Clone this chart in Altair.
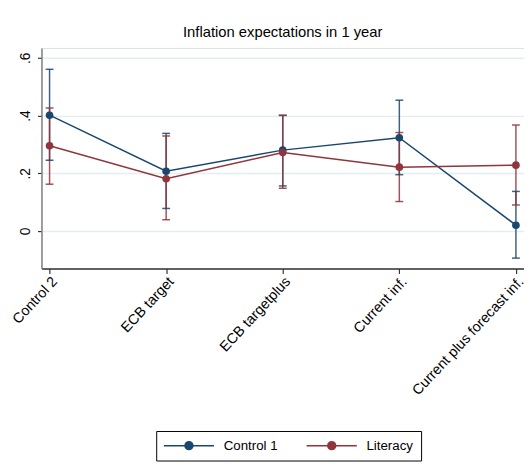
import altair as alt
import pandas as pd

categories = ["Control 2", "ECB target", "ECB targetplus", "Current inf.", "Current plus forecast inf."]
series_names = ["Control 1", "Literacy"]

control1_mean = [0.401, 0.207, 0.280, 0.323, 0.020]
control1_lo = [0.245, 0.078, 0.156, 0.195, -0.094]
control1_hi = [0.560, 0.338, 0.401, 0.453, 0.137]

literacy_mean = [0.295, 0.181, 0.272, 0.221, 0.228]
literacy_lo = [0.162, 0.039, 0.148, 0.102, 0.090]
literacy_hi = [0.426, 0.329, 0.400, 0.341, 0.367]

y_ticks = [0, 0.2, 0.4, 0.6]
colors = ["#1a476f", "#90353b"]

rows = []
for name, m, lo, hi in [
    (series_names[0], control1_mean, control1_lo, control1_hi),
    (series_names[1], literacy_mean, literacy_lo, literacy_hi),
]:
    for c, a, b, d in zip(categories, m, lo, hi):
        rows.append({"cat": c, "series": name, "mean": a, "lo": b, "hi": d})
df = pd.DataFrame(rows)

FONT = "Liberation Sans"

x_enc = alt.X(
    "cat:N",
    sort=categories,
    scale=alt.Scale(type="point", padding=0.0693),
    axis=alt.Axis(
        title=None,
        labelAngle=313,
        labelAlign="right",
        labelBaseline="top",
        labelFontSize=14.5,
        labelFont=FONT,
        labelColor="#000000",
        labelPadding=1,
        labelLimit=300,
        tickSize=5,
        tickColor="#333333",
        tickWidth=1.2,
        domainColor="#333333",
        domainWidth=1.5,
        grid=False,
    ),
)

y_scale = alt.Scale(domain=[-0.13, 0.634], nice=False, zero=False)
y_axis = alt.Axis(
    title=None,
    values=y_ticks,
    labelExpr="datum.value == 0 ? '0' : replace(format(datum.value, '.1f'), '0.', '.')",
    labelAngle=270,
    labelAlign="center",
    labelBaseline="bottom",
    labelFontSize=14,
    labelFont=FONT,
    labelColor="#000000",
    labelPadding=5,
    tickSize=4,
    tickColor="#333333",
    tickWidth=1.2,
    domainColor="#808080",
    domainWidth=1.5,
    grid=True,
    gridColor="#e4edf0",
    gridWidth=1.5,
)

color_scale = alt.Scale(domain=series_names, range=colors)

legend_path = (
    "M-1.4,0H8.8"
    "M4.5,0A0.8,0.8,0,1,1,2.9,0A0.8,0.8,0,1,1,4.5,0"
    "M4.2,0A0.5,0.5,0,1,1,3.2,0A0.5,0.5,0,1,1,4.2,0"
    "M3.9,0A0.2,0.2,0,1,1,3.5,0A0.2,0.2,0,1,1,3.9,0"
)

legend = alt.Legend(
    title=None,
    orient="none",
    legendX=116.5,
    legendY=389,
    direction="horizontal",
    symbolType=legend_path,
    symbolSize=100,
    symbolStrokeWidth=1.5,
    symbolOpacity=1,
    labelFontSize=13.5,
    labelFont=FONT,
    labelColor="#000000",
    labelOffset=47,
    columnPadding=25,
    padding=8,
    strokeColor="#000000",
    fillColor="#ffffff",
)

color_enc = alt.Color("series:N", scale=color_scale, legend=legend)

base = alt.Chart(df)

rules = base.mark_rule(strokeWidth=1.5, opacity=0.85).encode(
    x=x_enc,
    y=alt.Y("lo:Q", scale=y_scale, axis=y_axis),
    y2="hi:Q",
    color=color_enc,
)
caps_lo = base.mark_tick(size=8, thickness=1.5, opacity=0.85).encode(
    x=x_enc,
    y=alt.Y("lo:Q", scale=y_scale),
    color=color_enc,
)
caps_hi = base.mark_tick(size=8, thickness=1.5, opacity=0.85).encode(
    x=x_enc,
    y=alt.Y("hi:Q", scale=y_scale),
    color=color_enc,
)
lines = base.mark_line(strokeWidth=1.5).encode(
    x=x_enc,
    y=alt.Y("mean:Q", scale=y_scale),
    color=color_enc,
)
points = base.mark_point(filled=True, size=60, opacity=1).encode(
    x=x_enc,
    y=alt.Y("mean:Q", scale=y_scale),
    color=color_enc,
)

chart = (
    alt.layer(rules, caps_lo, caps_hi, lines, points)
    .properties(
        width=490,
        height=224,
        autosize=alt.AutoSizeParams(type="none"),
        padding={"left": 34, "top": 37, "right": 0, "bottom": 197},
        title=alt.TitleParams(
            "Inflation expectations in 1 year",
            fontSize=15,
            font=FONT,
            fontWeight="normal",
            color="#000000",
            anchor="middle",
            offset=8,
        ),
    )
    .configure_view(stroke=None)
    .configure(background="#ffffff")
)

chart.save("out.html", embed_options={"renderer": "svg", "actions": False})
